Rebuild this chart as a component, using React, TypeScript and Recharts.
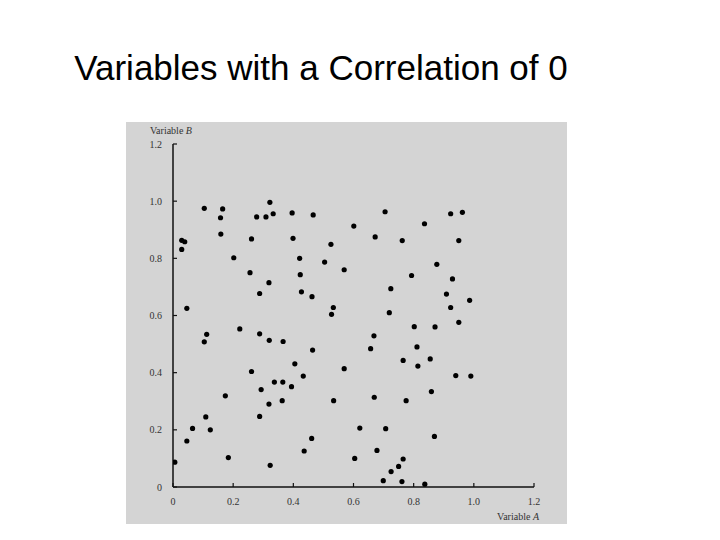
import { ScatterChart, Scatter, XAxis, YAxis } from 'recharts'

const varA = [
  0.029, 0.039, 0.029, 0.104, 0.158, 0.165, 0.159, 0.202, 0.256, 0.261,
  0.278, 0.288, 0.309, 0.322, 0.333, 0.319, 0.396, 0.399, 0.421, 0.423,
  0.427, 0.462, 0.466, 0.504, 0.525, 0.533, 0.569, 0.046, 0.705, 0.601,
  0.672, 0.836, 0.762, 0.923, 0.962, 0.95, 0.877, 0.793, 0.929, 0.724,
  0.909, 0.986, 0.923, 0.006, 0.046, 0.065, 0.109, 0.124, 0.104, 0.112,
  0.184, 0.174, 0.222, 0.261, 0.288, 0.293, 0.288, 0.319, 0.32, 0.323,
  0.337, 0.365, 0.366, 0.363, 0.394, 0.405, 0.433, 0.436, 0.461, 0.464,
  0.527, 0.534, 0.569, 0.719, 0.95, 0.802, 0.871, 0.668, 0.657, 0.811,
  0.765, 0.855, 0.814, 0.94, 0.99, 0.859, 0.669, 0.775, 0.621, 0.707,
  0.869, 0.678, 0.604, 0.765, 0.75, 0.725, 0.699, 0.761, 0.837,
]

const varB = [
  0.863, 0.858, 0.831, 0.975, 0.942, 0.973, 0.885, 0.802, 0.75, 0.868,
  0.945, 0.677, 0.945, 0.996, 0.956, 0.715, 0.959, 0.87, 0.8, 0.743,
  0.683, 0.666, 0.952, 0.787, 0.849, 0.628, 0.76, 0.625, 0.963, 0.913,
  0.875, 0.921, 0.862, 0.956, 0.961, 0.862, 0.779, 0.74, 0.728, 0.694,
  0.675, 0.653, 0.628, 0.087, 0.161, 0.205, 0.245, 0.2, 0.508, 0.534,
  0.103, 0.319, 0.553, 0.404, 0.536, 0.341, 0.247, 0.29, 0.513, 0.076,
  0.367, 0.367, 0.509, 0.302, 0.351, 0.431, 0.388, 0.126, 0.17, 0.479,
  0.604, 0.302, 0.414, 0.61, 0.576, 0.561, 0.56, 0.529, 0.484, 0.49,
  0.443, 0.448, 0.423, 0.39, 0.388, 0.334, 0.314, 0.302, 0.206, 0.204,
  0.177, 0.128, 0.1, 0.098, 0.072, 0.054, 0.022, 0.019, 0.01,
]

const ticks = [0, 0.2, 0.4, 0.6, 0.8, 1.0, 1.2]

const points = varA.map((a, i) => ({ a, b: varB[i] }))

const serif = '"Liberation Serif", "DejaVu Serif", serif'

const fmt = (v: number) => (v === 0 ? '0' : v.toFixed(1))

function XTick({ x, y, payload }: any) {
  return (
    <g>
      <line x1={x} y1={y} x2={x} y2={y - 4} stroke="#111" strokeWidth={1.2} />
      <text x={x} y={y + 18} textAnchor="middle" fontFamily={serif} fontSize={10} fill="#333">
        {fmt(payload.value)}
      </text>
    </g>
  )
}

function YTick({ x, y, payload }: any) {
  return (
    <g>
      <line x1={x} y1={y} x2={x + 4} y2={y} stroke="#111" strokeWidth={1.2} />
      <text x={x - 11} y={y + 3.5} textAnchor="end" fontFamily={serif} fontSize={10} fill="#333">
        {fmt(payload.value)}
      </text>
    </g>
  )
}

const Dot = (props: any) => <circle cx={props.cx} cy={props.cy} r={2.6} fill="#000" />

export default function App() {
  return (
    <div style={{ position: 'absolute', left: 0, top: 0, width: 720, height: 540, background: '#fff' }}>
      <div
        style={{
          position: 'absolute',
          left: 0,
          top: 50,
          width: 642,
          textAlign: 'center',
          fontFamily: '"Liberation Sans", Arial, sans-serif',
          fontSize: 35,
          lineHeight: '35px',
          color: '#000',
          whiteSpace: 'nowrap',
        }}
      >
        Variables with a Correlation of 0
      </div>
      <div style={{ position: 'absolute', left: 126, top: 122, width: 441, height: 402, background: '#d4d4d4' }} />
      <div style={{ position: 'absolute', left: 0, top: 0 }}>
        <ScatterChart width={720} height={540} margin={{ top: 144, right: 186, bottom: 23, left: 133 }}>
          <XAxis
            type="number"
            dataKey="a"
            domain={[0, 1.2]}
            ticks={ticks}
            tickSize={0}
            tickMargin={0}
            tickLine={false}
            tick={<XTick />}
            axisLine={{ stroke: '#111', strokeWidth: 1.5 }}
            height={30}
            allowDataOverflow
          />
          <YAxis
            type="number"
            dataKey="b"
            domain={[0, 1.2]}
            ticks={ticks}
            tickSize={0}
            tickMargin={0}
            tickLine={false}
            tick={<YTick />}
            axisLine={{ stroke: '#111', strokeWidth: 1.5 }}
            width={40}
            allowDataOverflow
          />
          <Scatter data={points} shape={<Dot />} isAnimationActive={false} />
        </ScatterChart>
      </div>
      <svg width={720} height={540} style={{ position: 'absolute', left: 0, top: 0, pointerEvents: 'none' }}>
        <text x={150} y={134} fontFamily={serif} fontSize={10} fill="#333">
          Variable <tspan fontStyle="italic">B</tspan>
        </text>
        <text x={539} y={520} textAnchor="end" fontFamily={serif} fontSize={10} fill="#333">
          Variable <tspan fontStyle="italic">A</tspan>
        </text>
      </svg>
    </div>
  )
}
